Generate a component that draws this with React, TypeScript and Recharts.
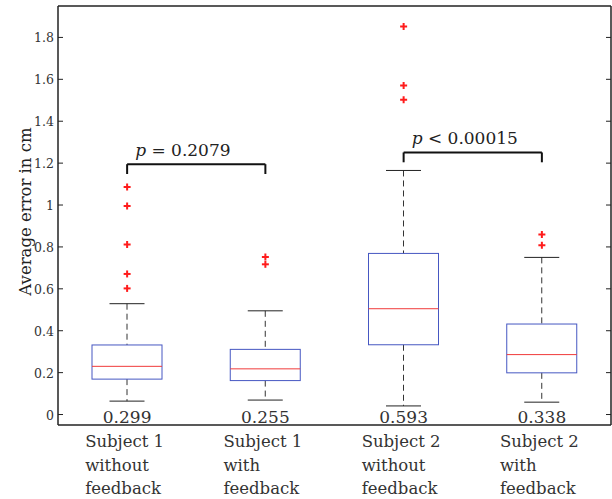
import React from 'react';
import { ComposedChart, Bar, Line, XAxis, YAxis, ReferenceLine } from 'recharts';

// groups in plot order
const categories = ['S1 without', 'S1 with', 'S2 without', 'S2 with'];
const categoryLines = [
  ['Subject 1', 'without', 'feedback'],
  ['Subject 1', 'with', 'feedback'],
  ['Subject 2', 'without', 'feedback'],
  ['Subject 2', 'with', 'feedback'],
];

// box statistics (cm)
const whiskerLow = [0.064, 0.069, 0.041, 0.059];
const q1 = [0.169, 0.162, 0.333, 0.199];
const median = [0.23, 0.218, 0.505, 0.286];
const q3 = [0.332, 0.311, 0.769, 0.432];
const whiskerHigh = [0.529, 0.495, 1.165, 0.75];
const outliers = [
  [1.086, 0.995, 0.811, 0.671, 0.602],
  [0.752, 0.717],
  [1.852, 1.571, 1.502],
  [0.859, 0.808],
];
const meanLabels = ['0.299', '0.255', '0.593', '0.338'];

// significance brackets
const bracketFrom = [0, 2];
const bracketTo = [1, 3];
const bracketLevel = [1.195, 1.251];
const bracketDrop = 0.047;
const bracketText = ['= 0.2079', '< 0.00015'];

const yTicks = [0, 0.2, 0.4, 0.6, 0.8, 1, 1.2, 1.4, 1.6, 1.8];
const yDomain: [number, number] = [-0.05, 1.95];

const FONT = 'DejaVu Serif';
const INK = '#222';
const serif = (size: number, extra: React.CSSProperties = {}): React.CSSProperties => ({
  fontFamily: FONT,
  fontSize: size,
  ...extra,
});

const chartData = categories.map((name, i) => {
  const row: any = {
    name,
    low: whiskerLow[i],
    q1: q1[i],
    median: median[i],
    q3: q3[i],
    high: whiskerHigh[i],
    mean: meanLabels[i],
  };
  outliers[i].forEach((v, j) => {
    row['o' + j] = v;
  });
  return row;
});
const outlierKeys = Array.from(
  { length: Math.max(...outliers.map((o) => o.length)) },
  (_, j) => 'o' + j
);

const BoxShape = (props: any) => {
  const { x, y, width, height, payload } = props;
  const top = Math.min(y, y + height);
  const h = Math.abs(height);
  const span = payload.high - payload.low;
  const py = (v: number) => top + ((payload.high - v) / span) * h;
  const cx = x + width / 2;
  const cap = width / 4;
  return (
    <g>
      <line x1={cx} x2={cx} y1={py(payload.high)} y2={py(payload.q3)} stroke="#333" strokeDasharray="6 4" />
      <line x1={cx} x2={cx} y1={py(payload.q1)} y2={py(payload.low)} stroke="#333" strokeDasharray="6 4" />
      <line x1={cx - cap} x2={cx + cap} y1={py(payload.high)} y2={py(payload.high)} stroke={INK} />
      <line x1={cx - cap} x2={cx + cap} y1={py(payload.low)} y2={py(payload.low)} stroke={INK} />
      <rect
        x={x}
        y={py(payload.q3)}
        width={width}
        height={py(payload.q1) - py(payload.q3)}
        fill="none"
        stroke="#4657c2"
      />
      <line x1={x} x2={x + width} y1={py(payload.median)} y2={py(payload.median)} stroke="#f03a3a" />
    </g>
  );
};

const OutlierDot = (props: any) => {
  const { cx, cy, value } = props;
  if (value == null || cy == null || Number.isNaN(cy)) return <g />;
  return (
    <g>
      <line x1={cx - 3.5} x2={cx + 3.5} y1={cy} y2={cy} stroke="#ff1c1c" strokeWidth={2} />
      <line x1={cx} x2={cx} y1={cy - 3.5} y2={cy + 3.5} stroke="#ff1c1c" strokeWidth={2} />
    </g>
  );
};

const fmt = (v: number) => String(Number(v.toFixed(1)));

const LeftTick = (props: any) => {
  const { x, y, payload } = props;
  return (
    <g>
      <line x1={x} x2={x + 5} y1={y} y2={y} stroke={INK} />
      <text x={x - 4} y={y} dy={5} textAnchor="end" fill="#333" style={serif(12.5)}>
        {fmt(payload.value)}
      </text>
    </g>
  );
};

const RightTick = (props: any) => {
  const { x, y } = props;
  return <line x1={x - 5} x2={x} y1={y} y2={y} stroke={INK} />;
};

const CategoryTick = (props: any) => {
  const { x, y, payload } = props;
  const i = categories.indexOf(payload.value);
  if (i < 0) return <g />;
  return (
    <g fill="#333">
      <text x={x} y={y - 2} textAnchor="middle" style={serif(17)}>
        {meanLabels[i]}
      </text>
      {categoryLines[i].map((line, k) => (
        <text key={k} x={x - 42} y={y + 22 + k * 23.5} style={serif(16.5)}>
          {line}
        </text>
      ))}
    </g>
  );
};

const PLabel = (text: string) => (props: any) => {
  const { viewBox } = props;
  return (
    <text x={viewBox.x + 8} y={viewBox.y - 8} fill="#222" style={serif(17)}>
      <tspan style={{ fontStyle: 'italic' }}>p</tspan>
      <tspan> {text}</tspan>
    </text>
  );
};

const YLabel = (props: any) => {
  const { viewBox } = props;
  const cy = viewBox.y + viewBox.height / 2 - 4;
  const cx = 25;
  return (
    <text
      x={cx}
      y={cy}
      transform={`rotate(-90 ${cx} ${cy})`}
      textAnchor="middle"
      dominantBaseline="central"
      fill="#222"
      style={serif(16.5)}
    >
      Average error in cm
    </text>
  );
};

export default function App() {
  return (
    <div
      style={{
        position: 'absolute',
        left: 0,
        top: 0,
        width: 612,
        height: 499,
        background: '#fff',
        fontFamily: FONT,
      }}
    >
      <ComposedChart
        width={612}
        height={499}
        data={chartData}
        margin={{ top: 6, right: 0, bottom: 0, left: 0 }}
      >
        <XAxis
          dataKey="name"
          height={74}
          tickLine={false}
          tickSize={0}
          tickMargin={0}
          interval={0}
          axisLine={{ stroke: INK, strokeWidth: 1.5 }}
          tick={<CategoryTick />}
        />
        <YAxis
          width={58}
          domain={yDomain}
          ticks={yTicks}
          type="number"
          allowDataOverflow
          tickLine={false}
          tickSize={0}
          tickMargin={0}
          axisLine={{ stroke: INK, strokeWidth: 1.5 }}
          tick={<LeftTick />}
          label={<YLabel />}
        />
        <YAxis
          yAxisId="right"
          orientation="right"
          width={1}
          domain={yDomain}
          ticks={yTicks}
          type="number"
          allowDataOverflow
          tickLine={false}
          tickSize={0}
          tickMargin={0}
          axisLine={{ stroke: INK, strokeWidth: 1.5 }}
          tick={<RightTick />}
        />
        <ReferenceLine y={yDomain[1]} stroke={INK} strokeWidth={1.5} ifOverflow="visible" />
        <Bar
          dataKey={(d: any) => [d.low, d.high]}
          barSize={70}
          shape={<BoxShape />}
          isAnimationActive={false}
        />
        {outlierKeys.map((k) => (
          <Line
            key={k}
            dataKey={k}
            stroke="none"
            dot={<OutlierDot />}
            activeDot={false}
            connectNulls={false}
            isAnimationActive={false}
            legendType="none"
          />
        ))}
        {bracketFrom.map((from, b) => {
          const to = bracketTo[b];
          const yv = bracketLevel[b];
          return (
            <React.Fragment key={b}>
              <ReferenceLine
                segment={[
                  { x: categories[from], y: yv },
                  { x: categories[to], y: yv },
                ]}
                stroke="#111"
                strokeWidth={2}
                ifOverflow="visible"
                label={{ content: PLabel(bracketText[b]) } as any}
              />
              <ReferenceLine
                segment={[
                  { x: categories[from], y: yv },
                  { x: categories[from], y: yv - bracketDrop },
                ]}
                stroke="#111"
                strokeWidth={2}
                ifOverflow="visible"
              />
              <ReferenceLine
                segment={[
                  { x: categories[to], y: yv },
                  { x: categories[to], y: yv - bracketDrop },
                ]}
                stroke="#111"
                strokeWidth={2}
                ifOverflow="visible"
              />
            </React.Fragment>
          );
        })}
      </ComposedChart>
    </div>
  );
}
